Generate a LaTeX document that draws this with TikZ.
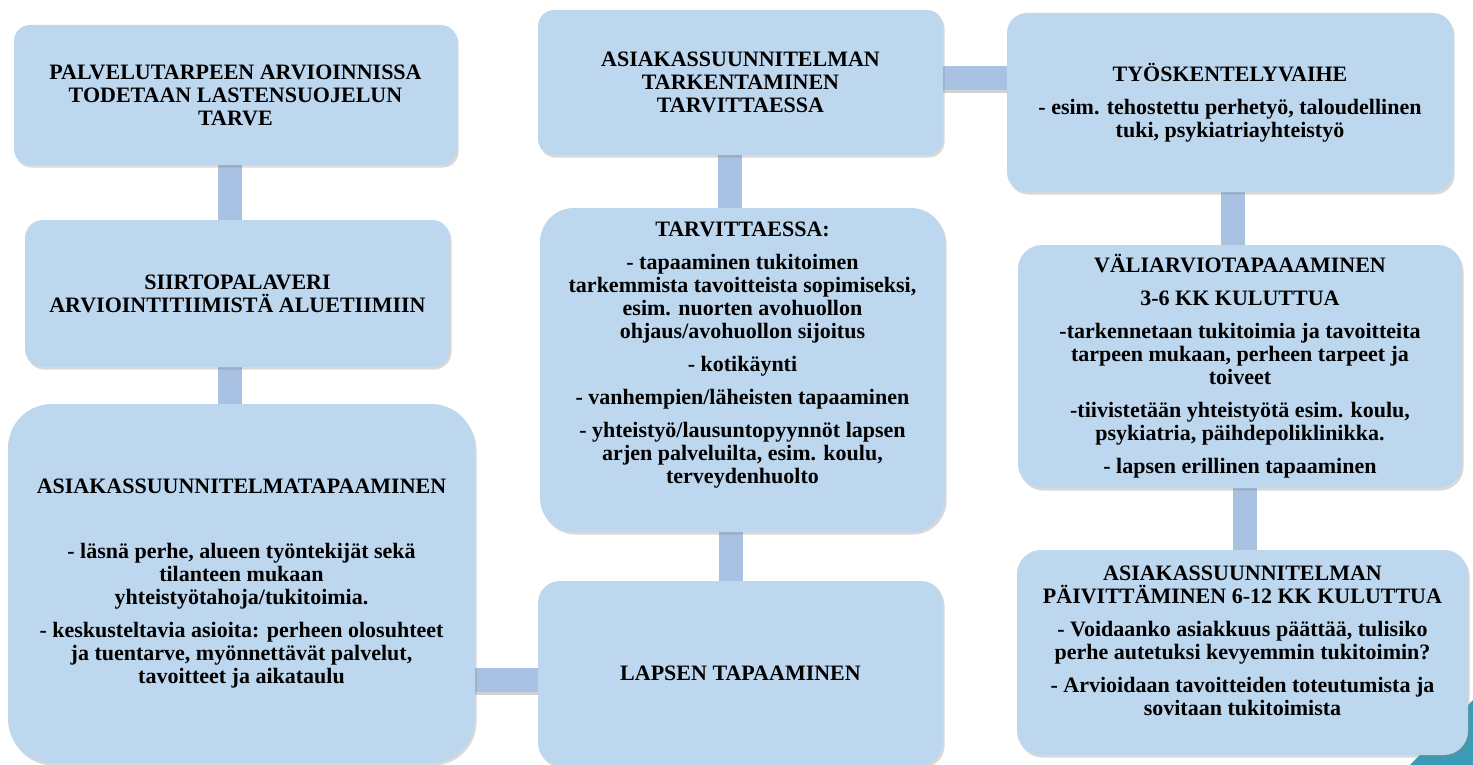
\documentclass[tikz,border=0pt]{standalone}
\usepackage{fontspec}
\setmainfont{Liberation Serif}
\usetikzlibrary{shadows}
\usetikzlibrary{backgrounds}
\definecolor{boxblue}{HTML}{BDD7EE}
\definecolor{linkblue}{HTML}{A9C2E3}
\definecolor{cornerteal}{HTML}{3A9CB6}
\tikzset{
  stage/.style={fill=boxblue, rounded corners=#1, align=center, inner sep=0pt,
    font=\bfseries\fontsize{11}{11.5}\selectfont,
    drop shadow={shadow xshift=0.8pt, shadow yshift=-1.3pt, opacity=0.3}},
  stage/.default=8pt,
  stagetext/.style={align=center, inner sep=0pt, font=\bfseries\fontsize{11}{11.5}\selectfont},
  link/.style={draw=linkblue, line width=12pt,
    preaction={draw=black!60, opacity=0.3, line width=12pt, transform canvas={yshift=-1.3pt}}}
}

\begin{document}
\begin{tikzpicture}[x=0.5pt, y=-0.5pt]
    \useasboundingbox (0,0) rectangle (1473,765);
    \fill[cornerteal] (1410,765) -- (1473,700) -- (1473,765) -- cycle;

    % left column
    \node[stage, minimum width=221.5pt, minimum height=70pt] at (235.5, 95) (A)
      {PALVELUTARPEEN ARVIOINNISSA\\ TODETAAN LASTENSUOJELUN\\ TARVE};
    \node[stage=9pt, minimum width=212.5pt, minimum height=73.5pt] at (237.5, 293.5) (B)
      {SIIRTOPALAVERI\\ ARVIOINTITIIMISTÄ ALUETIIMIIN};
    \node[stage=22pt, minimum width=233.5pt, minimum height=179.5pt] at (241.5, 583.5) (C)
      {ASIAKASSUUNNITELMATAPAAMINEN\\[21pt]
       - läsnä perhe, alueen työntekijät sekä\\ tilanteen mukaan\\ yhteistyötahoja/tukitoimia.\\[5pt]
       - keskusteltavia asioita: perheen olosuhteet\\ ja tuentarve, myönnettävät palvelut,\\ tavoitteet ja aikataulu};

    % middle column
    \node[stage, minimum width=202.5pt, minimum height=72.5pt] at (740.5, 82.5) (D)
      {ASIAKASSUUNNITELMAN\\ TARKENTAMINEN\\ TARVITTAESSA};
    \node[stage=17pt, minimum width=202.5pt, minimum height=162pt] at (742.5, 370) (E) {};
    \node[stagetext] at (742.5, 355) (Etext)
      {TARVITTAESSA:\\[5pt]
       - tapaaminen tukitoimen\\ tarkemmista tavoitteista sopimiseksi,\\ esim. nuorten avohuollon\\ ohjaus/avohuollon sijoitus\\[5pt]
       - kotikäynti\\[5pt]
       - vanhempien/läheisten tapaaminen\\[5pt]
       - yhteistyö/lausuntopyynnöt lapsen\\ arjen palveluilta, esim. koulu,\\ terveydenhuolto};
    \node[stage=11pt, minimum width=202.5pt, minimum height=92pt] at (740.5, 673) (F)
      {LAPSEN TAPAAMINEN};

    % right column
    \node[stage=10pt, minimum width=223pt, minimum height=89.5pt] at (1230, 102.5) (G)
      {TYÖSKENTELYVAIHE\\[5pt]
       - esim. tehostettu perhetyö, taloudellinen\\ tuki, psykiatriayhteistyö};
    \node[stage=12pt, minimum width=222pt, minimum height=121.5pt] at (1240, 366.5) (H)
      {VÄLIARVIOTAPAAAMINEN\\[5pt]
       3-6 KK KULUTTUA\\[5pt]
       -tarkennetaan tukitoimia ja tavoitteita\\ tarpeen mukaan, perheen tarpeet ja\\ toiveet\\[5pt]
       -tiivistetään yhteistyötä esim. koulu,\\ psykiatria, päihdepoliklinikka.\\[5pt]
       - lapsen erillinen tapaaminen};
    \node[stage=12pt, minimum width=225.5pt, minimum height=102.5pt] at (1242.5, 652.5) (I) {};
    \node[stagetext] at (1242.5, 641) (Itext)
      {ASIAKASSUUNNITELMAN\\ PÄIVITTÄMINEN 6-12 KK KULUTTUA\\[5pt]
       - Voidaanko asiakkuus päättää, tulisiko\\ perhe autetuksi kevyemmin tukitoimin?\\[5pt]
       - Arvioidaan tavoitteiden toteutumista ja\\ sovitaan tukitoimista};

    \begin{scope}[on background layer]
      \draw[link] ([xshift=-3pt]A.south) -- ([xshift=-3pt]A.south |- B.north);
      \draw[link] ([xshift=-3.75pt]B.south) -- ([xshift=-3.75pt]B.south |- C.north);
      \draw[link] ([yshift=-3.5pt]F.west) -- ([yshift=-3.5pt]F.west -| C.east);
      \draw[link] ([xshift=-5.5pt]D.south) -- ([xshift=-5.5pt]D.south |- E.north);
      \draw[link] ([xshift=-6pt]E.south) -- ([xshift=-6pt]E.south |- F.north);
      \draw[link] ([yshift=2.25pt]D.east) -- ([yshift=2.25pt]D.east -| G.west);
      \draw[link] ([xshift=1.25pt]G.south) -- ([xshift=1.25pt]G.south |- H.north);
      \draw[link] ([xshift=2.25pt]H.south) -- ([xshift=2.25pt]H.south |- I.north);
    \end{scope}
\end{tikzpicture}
\end{document}
